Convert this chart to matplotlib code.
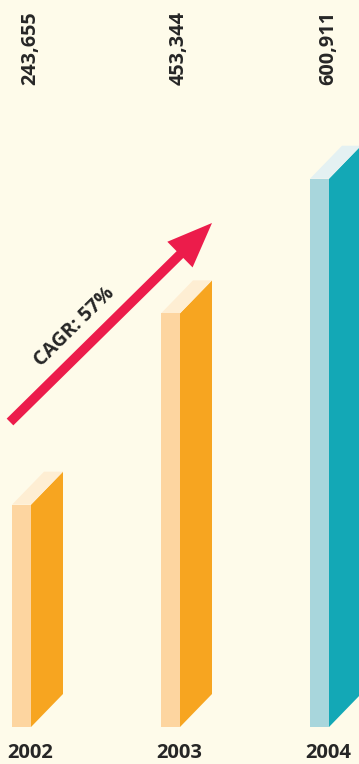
import matplotlib
matplotlib.use("Agg")
import matplotlib.pyplot as plt
from matplotlib.patches import Polygon, FancyArrow
import matplotlib.transforms as mtransforms

# ---- data ----
years = ["2002", "2003", "2004"]
values = [243655, 453344, 600911]
value_labels = ["243,655", "453,344", "600,911"]
cagr_label = "CAGR: 57%"

# ---- styles ----
bg = "#FEFBEA"
front_colors = ["#FDD5A0", "#FDD5A0", "#A8D6DC"]
side_colors = ["#F7A520", "#F7A520", "#13A8B6"]
top_colors = ["#FEEED3", "#FEEED3", "#E4F1F2"]
text_color = "#262626"
arrow_color = "#EC1C4B"
font = "Open Sans"

W, H = 359, 764
fig = plt.figure(figsize=(W / 100, H / 100), dpi=100, facecolor=bg)
ax = fig.add_axes([0, 0, 1, 1])
ax.set_facecolor(bg)

k = 1096.0          # value units per pixel
spacing = 149.0     # pixels between categories
x0_px = 21.5        # pixel of first front-face center
base_px = 37        # pixels of baseline from bottom
ax.set_xlim(-x0_px / spacing, (W - x0_px) / spacing)
ax.set_ylim(-base_px * k, (H - base_px) * k)
ax.axis("off")

w = 19 / spacing
dx = 32 / spacing
dy = 33 * k
xs = list(range(len(values)))

ax.bar(xs, values, width=w, color=front_colors, linewidth=0, zorder=3)
for i, v in enumerate(values):
    xl = xs[i] - w / 2
    xr = xs[i] + w / 2
    side = Polygon([(xr, 0), (xr + dx, dy), (xr + dx, v + dy), (xr, v)],
                   closed=True, facecolor=side_colors[i], edgecolor="none", zorder=2)
    top = Polygon([(xl, v), (xr, v), (xr + dx, v + dy), (xl + dx, v + dy)],
                  closed=True, facecolor=top_colors[i], edgecolor="none", zorder=2)
    ax.add_patch(side)
    ax.add_patch(top)

trans = mtransforms.blended_transform_factory(ax.transData, ax.transAxes)
off = 8.5 / spacing
for i, (yr, lab) in enumerate(zip(years, value_labels)):
    ax.text(xs[i] + off, 0.5 / H, yr, transform=trans, ha="center", va="bottom",
            fontsize=14.5, fontweight="bold", color=text_color, family=font)
    ax.text(xs[i] + off, 1 - 85 / H, lab, transform=trans, ha="center", va="bottom",
            rotation=90, fontsize=14.3, fontweight="bold", color=text_color, family=font)

# overlay in pixel coords for the arrow decoration
ov = fig.add_axes([0, 0, 1, 1])
ov.set_xlim(0, W)
ov.set_ylim(H, 0)
ov.axis("off")
ov.patch.set_alpha(0)
tail = (10, 422)
tip = (212, 223)
arr = FancyArrow(tail[0], tail[1], tip[0] - tail[0], tip[1] - tail[1],
                 width=9.5, head_width=36, head_length=45,
                 length_includes_head=True, color=arrow_color, linewidth=0)
ov.add_patch(arr)
ov.text(75, 327, cagr_label, rotation=44.6, ha="center", va="center",
        rotation_mode="anchor", fontsize=14.2, fontweight="bold",
        color=text_color, family=font)

fig.savefig("out.png", dpi=100, facecolor=bg)
